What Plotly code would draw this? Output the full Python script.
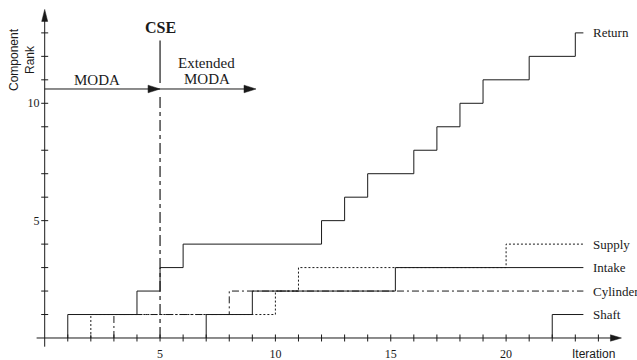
import plotly.graph_objects as go

# ---------------- data ----------------
return_iter = [1, 4, 5, 6, 12, 13, 14, 16, 17, 18, 19, 21, 23]
return_rank = [1, 2, 3, 4, 5, 6, 7, 8, 9, 10, 11, 12, 13]
supply_iter = [2, 10, 11, 20]
supply_rank = [1, 2, 3, 4]
intake_iter = [7, 9, 15.2]
intake_rank = [1, 2, 3]
cylinder_iter = [3, 8]
cylinder_rank = [1, 2]
shaft_iter = [22]
shaft_rank = [1]
series_names = ["Return", "Supply", "Intake", "Cylinder", "Shaft"]
series_dash = ["solid", "dot", "solid", "dashdot", "solid"]
end_iter = 23.35          # where all step lines end
label_iter = 23.7         # where the series names start
x_ticklabels = [5, 10, 15, 20]
y_ticklabels = [5, 10]
x_minor = list(range(1, 25))
y_minor = list(range(1, 14))
cse_iter = 5
moda_rank = 10.61
ext_moda_end = 9.16
x_axis_end = 25.0
y_axis_end = 14.0

# ---------------- layout geometry ----------------
W, H = 637, 360
ORIGIN = (44.7, 338.0)        # pixel position of (0,0)
SX, SY = 23.07, 23.47         # pixels per unit
X_RANGE = [-0.4, 25.2]
Y_RANGE = [-0.4, 14.2]
xdom = [(ORIGIN[0] + SX * X_RANGE[0]) / W, (ORIGIN[0] + SX * X_RANGE[1]) / W]
ydom = [(H - (ORIGIN[1] - SY * Y_RANGE[0])) / H, (H - (ORIGIN[1] - SY * Y_RANGE[1])) / H]

INK = "#1a1a1a"
SERIF = "Liberation Serif, Times New Roman, serif"
SANS = "Liberation Sans, Arial, sans-serif"

fig = go.Figure()


def step_xy(iters, ranks):
    xs = [iters[0]]
    ys = [0]
    for i, r in zip(iters, ranks):
        xs.append(i)
        ys.append(r)
    xs.append(end_iter)
    ys.append(ranks[-1])
    return xs, ys


all_series = [
    (return_iter, return_rank),
    (supply_iter, supply_rank),
    (intake_iter, intake_rank),
    (cylinder_iter, cylinder_rank),
    (shaft_iter, shaft_rank),
]
for name, dash, (it, rk) in zip(series_names, series_dash, all_series):
    xs, ys = step_xy(it, rk)
    d = dash
    if dash == "dot":
        d = "2px,2px"
    elif dash == "dashdot":
        d = "7px,3px,2px,3px"
    fig.add_trace(go.Scatter(x=xs, y=ys, mode="lines", line_shape="hv",
                             line=dict(color=INK, width=1, dash=d),
                             name=name, showlegend=False, hoverinfo="skip"))
    fig.add_annotation(x=label_iter, y=rk[-1], text=name, showarrow=False,
                       xanchor="left", yanchor="middle",
                       font=dict(family=SERIF, size=13, color=INK))

# axes lines
shapes = []
shapes.append(dict(type="line", xref="x", yref="y", x0=-0.35, y0=0, x1=x_axis_end - 0.3, y1=0,
                   line=dict(color=INK, width=1)))
shapes.append(dict(type="line", xref="x", yref="y", x0=0, y0=-0.37, x1=0, y1=y_axis_end - 0.3,
                   line=dict(color=INK, width=1)))


def arrow_right(xt, y, length_px, half_px):
    xb = xt - length_px / SX
    h = half_px / SY
    return dict(type="path", xref="x", yref="y",
                path=f"M {xt},{y} L {xb},{y + h} L {xb},{y - h} Z",
                fillcolor=INK, line=dict(color=INK, width=0.5))


def arrow_up(x, yt, length_px, half_px):
    yb = yt - length_px / SY
    w = half_px / SX
    return dict(type="path", xref="x", yref="y",
                path=f"M {x},{yt} L {x - w},{yb} L {x + w},{yb} Z",
                fillcolor=INK, line=dict(color=INK, width=0.5))


shapes.append(arrow_right(x_axis_end, 0, 11, 3.2))
shapes.append(arrow_up(0, y_axis_end, 12, 3.0))

# MODA arrows
shapes.append(dict(type="line", xref="x", yref="y", x0=0, y0=moda_rank, x1=ext_moda_end - 0.3, y1=moda_rank,
                   line=dict(color=INK, width=1)))
shapes.append(arrow_right(cse_iter, moda_rank, 12, 3.8))
shapes.append(arrow_right(ext_moda_end, moda_rank, 12, 3.8))

# CSE line
cse_top = 12.68
shapes.append(dict(type="line", xref="x", yref="y", x0=cse_iter, y0=moda_rank + 0.25, x1=cse_iter, y1=cse_top,
                   line=dict(color=INK, width=1.2)))
shapes.append(dict(type="line", xref="x", yref="y", x0=cse_iter, y0=0, x1=cse_iter, y1=moda_rank - 0.2,
                   line=dict(color=INK, width=1.2, dash="11px,4px,4px,4px")))
fig.update_layout(shapes=shapes)

# tick marks crossing the axes
fig.add_trace(go.Scatter(x=x_minor, y=[0] * len(x_minor), mode="markers", showlegend=False, hoverinfo="skip",
                         marker=dict(symbol="line-ns", size=5, line=dict(color=INK, width=1))))
fig.add_trace(go.Scatter(x=[0] * len(y_minor), y=y_minor, mode="markers", showlegend=False, hoverinfo="skip",
                         marker=dict(symbol="line-ew", size=5, line=dict(color=INK, width=1))))

# text annotations
fig.add_annotation(x=cse_iter, y=13.21, text="<b>CSE</b>", showarrow=False,
                   font=dict(family=SERIF, size=16, color=INK))
fig.add_annotation(x=2.27, y=10.99, text="MODA", showarrow=False,
                   font=dict(family=SERIF, size=15, color=INK))
fig.add_annotation(x=7.03, y=11.72, text="Extended", showarrow=False,
                   font=dict(family=SERIF, size=15, color=INK))
fig.add_annotation(x=7.03, y=11.03, text="MODA", showarrow=False,
                   font=dict(family=SERIF, size=15, color=INK))
fig.add_annotation(xref="paper", yref="paper", x=593 / W, y=1 - 354 / H, text="Iteration",
                   showarrow=False, xanchor="center", yanchor="middle",
                   font=dict(family=SANS, size=12, color=INK))
fig.add_annotation(xref="paper", yref="paper", x=22 / W, y=1 - 60 / H, text="Component<br>Rank",
                   textangle=-90, showarrow=False, xanchor="center", yanchor="middle",
                   font=dict(family=SANS, size=12, color=INK))

fig.update_layout(
    width=W, height=H,
    margin=dict(l=0, r=0, t=0, b=0),
    paper_bgcolor="white", plot_bgcolor="white",
    showlegend=False,
    xaxis=dict(domain=xdom, range=X_RANGE, showgrid=False, zeroline=False, showline=False,
               tickvals=x_ticklabels, ticks="", automargin=False,
               tickfont=dict(family=SERIF, size=12, color=INK), ticklabelstandoff=-2),
    yaxis=dict(domain=ydom, range=Y_RANGE, showgrid=False, zeroline=False, showline=False,
               tickvals=y_ticklabels, ticks="", automargin=False,
               tickfont=dict(family=SERIF, size=12, color=INK), ticklabelstandoff=-5),
)

fig.write_html("out.html", config={"displayModeBar": False},
               post_script="document.body.style.margin='0';document.body.style.overflow='hidden';")
